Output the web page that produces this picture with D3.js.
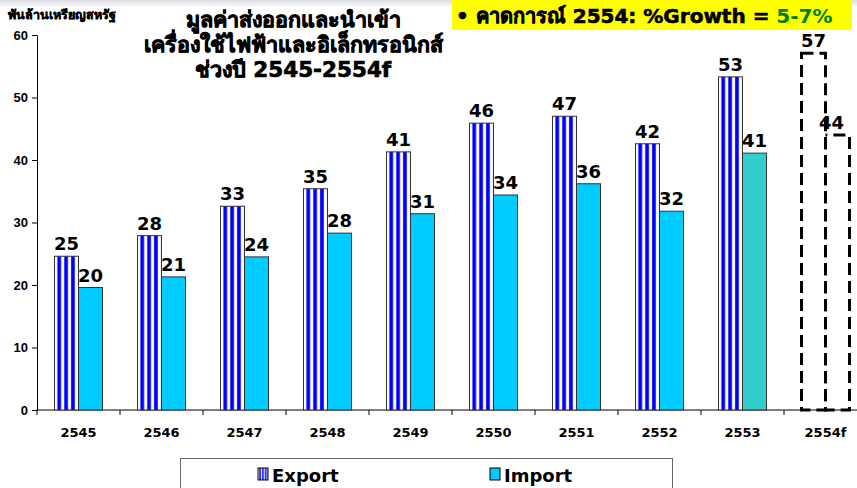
<!DOCTYPE html>
<html>
<head>
<meta charset="utf-8">
<script src="https://cdn.jsdelivr.net/npm/d3@7"></script>
<style>
  body { margin: 0; background: #fff; }
  svg { display: block; font-family: Verdana, "DejaVu Sans", sans-serif; }
</style>
</head>
<body>
<div id="chart"></div>
<script>
// data
const years = ["2545", "2546", "2547", "2548", "2549", "2550", "2551", "2552", "2553", "2554f"];
const exportValues = [24.6, 27.9, 32.6, 35.4, 41.3, 45.9, 47.0, 42.6, 53.3, 57.1];
const importValues = [19.6, 21.3, 24.5, 28.3, 31.4, 34.4, 36.2, 31.8, 41.1, 44.0];
const exportLabels = ["25", "28", "33", "35", "41", "46", "47", "42", "53", "57"];
const importLabels = ["20", "21", "24", "28", "31", "34", "36", "32", "41", "44"];
const yTicks = [0, 10, 20, 30, 40, 50, 60];
const titleLines = ["มูลค่าส่งออกและนำเข้า", "เครื่องใช้ไฟฟ้าและอิเล็กทรอนิกส์", "ช่วงปี 2545-2554f"];

const width = 857, height = 488;
const margin = { top: 35, left: 37, bottom: 78 };
const bandW = 83;

const svg = d3.select("#chart").append("svg")
    .attr("width", width)
    .attr("height", height);

const defs = svg.append("defs");
const pat = defs.append("pattern")
    .attr("id", "stripes")
    .attr("patternUnits", "objectBoundingBox")
    .attr("patternContentUnits", "objectBoundingBox")
    .attr("width", 2 / 7)
    .attr("height", 1);
pat.append("rect").attr("width", 2 / 7).attr("height", 1).attr("fill", "#fff");
pat.append("rect").attr("x", 0.12).attr("width", 0.155).attr("height", 1).attr("fill", "#0000ff");

// faint top strip
const grad = defs.append("linearGradient").attr("id", "topfade").attr("x1", 0).attr("x2", 0).attr("y1", 0).attr("y2", 1);
grad.append("stop").attr("offset", 0).attr("stop-color", "#dcdce4");
grad.append("stop").attr("offset", 1).attr("stop-color", "#fff");
svg.append("rect").attr("width", width).attr("height", 8).attr("fill", "url(#topfade)");

const x = d3.scaleBand()
    .domain(years)
    .range([margin.left, margin.left + bandW * years.length]);

const y = d3.scaleLinear()
    .domain([0, 60])
    .range([height - margin.bottom, margin.top]);

const barW = 24;
const dash = 12, gap = 6, period = dash + gap;

// axes
svg.append("g")
    .attr("transform", "translate(" + margin.left + ",0)")
    .call(d3.axisLeft(y).tickValues(yTicks).tickSize(5).tickSizeOuter(0).tickPadding(4))
    .call(g => g.select(".domain").attr("stroke", "#000"))
    .call(g => g.selectAll("text").attr("font-size", 13).attr("font-weight", "bold").attr("fill", "#000"));

const xAxis = svg.append("g")
    .attr("transform", "translate(0," + y(0) + ")");
xAxis.append("line")
    .attr("x1", margin.left).attr("x2", width)
    .attr("stroke", "#000");
xAxis.selectAll(".tk")
    .data(years)
    .join("line")
    .attr("class", "tk")
    .attr("x1", d => x(d)).attr("x2", d => x(d))
    .attr("y1", 0).attr("y2", 5)
    .attr("stroke", "#000");
xAxis.selectAll(".lbl")
    .data(years)
    .join("text")
    .attr("class", "lbl")
    .attr("x", d => x(d) + x.bandwidth() / 2)
    .attr("y", 27)
    .attr("text-anchor", "middle")
    .attr("font-size", 13)
    .attr("font-weight", "bold")
    .text(d => d);

// bars
const last = years.length - 1;
const groups = svg.selectAll(".grp")
    .data(years)
    .join("g")
    .attr("class", "grp");

groups.append("rect")
    .attr("x", d => x(d) + x.bandwidth() / 2 - barW)
    .attr("y", (d, i) => y(exportValues[i]))
    .attr("width", barW)
    .attr("height", (d, i) => y(0) - y(exportValues[i]))
    .attr("fill", (d, i) => i === last ? "none" : "url(#stripes)")
    .attr("stroke", (d, i) => i === last ? "#000" : "#333")
    .attr("stroke-width", (d, i) => i === last ? 3 : 1)
    .attr("stroke-dasharray", (d, i) => i === last ? dash + "," + gap : null);

// offset so the forecast boxes' shared edge has matching dashes
function importDashOffset(i) {
    const top1 = y(exportValues[i]), top2 = y(importValues[i]);
    const h2 = y(0) - top2;
    const o = top1 - dash - 2 * barW - h2 - y(0);
    return ((o % period) + period) % period;
}

groups.append("rect")
    .attr("x", d => x(d) + x.bandwidth() / 2)
    .attr("y", (d, i) => y(importValues[i]))
    .attr("width", barW)
    .attr("height", (d, i) => y(0) - y(importValues[i]))
    .attr("fill", (d, i) => i === last ? "none" : (i === last - 1 ? "#33cccc" : "#00ccff"))
    .attr("stroke", (d, i) => i === last ? "#000" : "#333")
    .attr("stroke-width", (d, i) => i === last ? 3 : 1)
    .attr("stroke-dasharray", (d, i) => i === last ? dash + "," + gap : null)
    .attr("stroke-dashoffset", (d, i) => i === last ? importDashOffset(i) : null);

groups.append("text")
    .attr("x", d => x(d) + x.bandwidth() / 2 - barW / 2)
    .attr("y", (d, i) => y(exportValues[i]) - 6)
    .attr("text-anchor", "middle")
    .attr("font-size", 18)
    .attr("font-weight", "bold")
    .text((d, i) => exportLabels[i]);

groups.append("text")
    .attr("x", (d, i) => x(d) + x.bandwidth() / 2 + barW / 2 - (i === last ? 6 : 0))
    .attr("y", (d, i) => y(importValues[i]) - 6)
    .attr("text-anchor", "middle")
    .attr("font-size", 18)
    .attr("font-weight", "bold")
    .text((d, i) => importLabels[i]);

// titles (Thai font has no bold face, so thicken with a stroke)
svg.append("text")
    .attr("x", 8).attr("y", 19)
    .attr("font-size", 12.5)
    .attr("font-weight", "bold")
    .attr("stroke", "#000")
    .attr("stroke-width", 0.4)
    .text("พันล้านเหรียญสหรัฐ");

svg.append("g").selectAll("text")
    .data(titleLines)
    .join("text")
    .attr("x", 293)
    .attr("y", (d, i) => 27 + i * 25)
    .attr("text-anchor", "middle")
    .attr("font-size", 21.5)
    .attr("font-weight", "bold")
    .attr("stroke", "#000")
    .attr("stroke-width", 0.7)
    .text(d => d);

svg.append("rect")
    .attr("x", 452).attr("y", 0)
    .attr("width", 400).attr("height", 30)
    .attr("fill", "#ffff00");
const note = svg.append("text")
    .attr("x", 456).attr("y", 23)
    .attr("font-size", 20)
    .attr("font-weight", "bold");
note.append("tspan").attr("stroke", "#000").attr("stroke-width", 0.6).text("• คาดการณ์ 2554: %Growth = ");
note.append("tspan").attr("fill", "#008000").text("5-7%");

// legend
const legend = svg.append("g");
legend.append("rect")
    .attr("x", 180.5).attr("y", 458.5)
    .attr("width", 492).attr("height", 40)
    .attr("fill", "#fff")
    .attr("stroke", "#666");
const legendItems = [
    { name: "Export", fill: "url(#stripes)", x: 258 },
    { name: "Import", fill: "#00ccff", x: 490 }
];
legend.selectAll(".sw")
    .data(legendItems)
    .join("rect")
    .attr("class", "sw")
    .attr("x", d => d.x).attr("y", 468)
    .attr("width", 10).attr("height", 12)
    .attr("fill", d => d.fill)
    .attr("stroke", "#000");
legend.selectAll(".lt")
    .data(legendItems)
    .join("text")
    .attr("class", "lt")
    .attr("x", d => d.x + 14).attr("y", 482)
    .attr("font-size", 18)
    .attr("font-weight", "bold")
    .text(d => d.name);
</script>
</body>
</html>
